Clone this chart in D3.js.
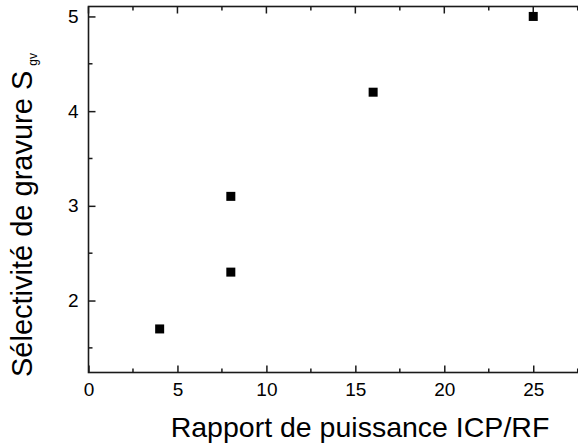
<!DOCTYPE html>
<html><head><meta charset="utf-8">
<script src="https://cdn.jsdelivr.net/npm/d3@7"></script>
<style>body{margin:0;background:#fff}svg{display:block}text{font-family:"Liberation Sans",Arial,sans-serif;fill:#000}</style>
</head><body>
<script>
const ratioICPRF = [4, 8, 8, 16, 25];
const selectivity = [1.7, 2.3, 3.1, 4.2, 5.0];
const xTickValues = [0, 5, 10, 15, 20, 25];
const yTickValues = [2, 3, 4, 5];
const xTitle = "Rapport de puissance ICP/RF";
const yTitle = "Sélectivité de gravure S";
const ySub = "gv";

(function(){
const W = 578, H = 446;
const svg = d3.select("body").append("svg").attr("width", W).attr("height", H);
const x = d3.scaleLinear().domain([0, 27.6]).range([88.5, 579.5]);
const y = d3.scaleLinear().domain([1.24, 5.105]).range([372.5, 6.5]);

const xMinor = d3.range(2.5, 27.6, 5);
const yMinor = d3.range(1.5, 5.0, 1);

svg.append("rect").attr("x", x(0)).attr("y", y(5.105)).attr("width", x(27.6)-x(0)).attr("height", y(1.24)-y(5.105))
  .attr("fill","none").attr("stroke","#1a1a1a").attr("stroke-width", 1.6);

const g = svg.append("g").attr("stroke","#1a1a1a").attr("stroke-width", 1.5);
const yTop = y(5.105), yBot = y(1.24);
function tickLines(vals, len, orient) {
  vals.forEach(v => {
    if (orient === "b") g.append("line").attr("x1", x(v)).attr("x2", x(v)).attr("y1", yBot).attr("y2", yBot - len);
    if (orient === "t") g.append("line").attr("x1", x(v)).attr("x2", x(v)).attr("y1", yTop).attr("y2", yTop + len);
    if (orient === "l") g.append("line").attr("y1", y(v)).attr("y2", y(v)).attr("x1", x(0)).attr("x2", x(0) + len);
  });
}
const xAx = svg.append("g").attr("transform", `translate(0,${yBot})`)
  .call(d3.axisBottom(x).tickValues(xTickValues).tickSize(-7).tickFormat(d3.format("d")));
xAx.select(".domain").remove();
xAx.selectAll(".tick line").attr("stroke","#1a1a1a").attr("stroke-width",1.5);
xAx.selectAll(".tick text").attr("font-size", 19).attr("y", 10).attr("dy","0.71em").attr("font-family","Liberation Sans, Arial, sans-serif").attr("fill","#000");
tickLines(xMinor, 4, "b");
tickLines(xTickValues, 7, "t");
tickLines(xMinor, 4, "t");

const yAx = svg.append("g").attr("transform", `translate(${x(0)},0)`)
  .call(d3.axisLeft(y).tickValues(yTickValues).tickSize(-7).tickFormat(d3.format("d")));
yAx.select(".domain").remove();
yAx.selectAll(".tick line").attr("stroke","#1a1a1a").attr("stroke-width",1.5);
yAx.selectAll(".tick text").attr("font-size", 19).attr("x", -10).attr("font-family","Liberation Sans, Arial, sans-serif").attr("fill","#000");
tickLines(yMinor, 4, "l");

const pts = ratioICPRF.map((v, i) => [v, selectivity[i]]);
const ms = 9;
svg.append("g").selectAll("rect").data(pts).join("rect")
  .attr("x", d => x(d[0]) - ms/2).attr("y", d => y(d[1]) - ms/2)
  .attr("width", ms).attr("height", ms).attr("fill", "#000");

svg.append("text").attr("x", 360).attr("y", 437).attr("text-anchor","middle").attr("font-size", 28.5).text(xTitle);
const yt = svg.append("text").attr("transform","translate(31.5,377) rotate(-90)").attr("text-anchor","start").attr("font-size", 29);
yt.append("tspan").text(yTitle);
yt.append("tspan").attr("font-size", 12).attr("dy", 5).attr("dx", 5).text(ySub);
})();
</script>
</body></html>
